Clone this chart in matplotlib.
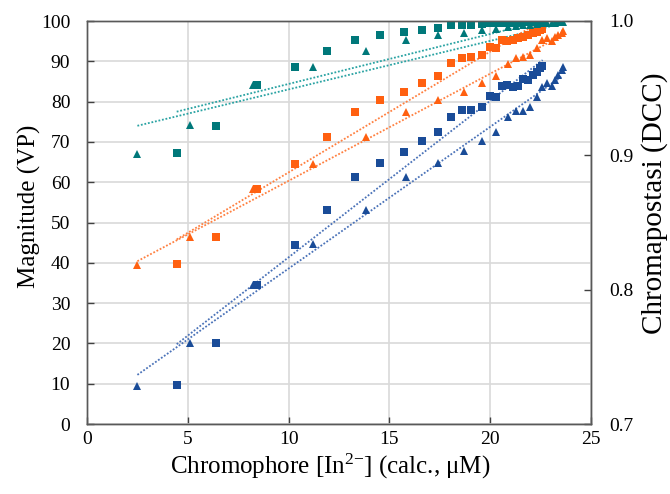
import matplotlib
matplotlib.use("Agg")
import matplotlib.pyplot as plt
import numpy as np

plt.rcParams['font.family'] = ['Liberation Serif', 'DejaVu Serif']
plt.rcParams['mathtext.fontset'] = 'custom'
plt.rcParams['mathtext.rm'] = 'Liberation Serif'
plt.rcParams['mathtext.it'] = 'Liberation Serif:italic'

# ---- data ----
x_sq = [4.45, 6.4, 8.45, 10.3, 11.9, 13.3, 14.55, 15.7, 16.6, 17.4, 18.05, 18.6, 19.05,
        19.6, 20.0, 20.3, 20.57, 20.82, 21.15, 21.4, 21.64, 21.89, 22.14, 22.3, 22.47, 22.55]
teal_sq = [67.2, 74.0, 84.2, 88.5, 92.5, 95.3, 96.5, 97.2, 97.8, 98.3, 99.0, 99.1, 99.1,
           99.3, 99.4, 99.4, 99.5, 99.5, 99.6, 99.6, 99.7, 99.7, 99.8, 99.8, 99.9, 99.9]
orange_sq = [39.7, 46.5, 58.3, 64.5, 71.2, 77.5, 80.4, 82.5, 84.7, 86.4, 89.5, 90.7, 91.0,
             91.6, 93.6, 93.4, 95.4, 95.1, 95.3, 95.7, 96.0, 96.5, 96.9, 97.3, 97.8, 98.0]
blue_sq = [9.7, 20.0, 34.5, 44.5, 53.1, 61.2, 64.8, 67.6, 70.3, 72.5, 76.3, 77.9, 77.9,
           78.7, 81.4, 81.2, 83.9, 84.1, 83.5, 83.9, 85.5, 85.4, 86.6, 87.4, 88.3, 88.8]

x_tri = [2.5, 5.1, 8.25, 11.2, 13.85, 15.8, 17.4, 18.7, 19.6, 20.3, 20.9, 21.3, 21.65,
         21.95, 22.3, 22.55, 22.8, 23.05, 23.2, 23.38, 23.55, 23.6]
teal_tri = [67.0, 74.2, 84.0, 88.5, 92.5, 95.2, 96.5, 97.0, 97.8, 97.9, 98.5, 98.8, 99.0,
            99.1, 99.2, 99.4, 99.5, 99.5, 99.6, 99.7, 99.8, 99.8]
orange_tri = [39.5, 46.5, 58.3, 64.5, 71.3, 77.5, 80.4, 82.3, 84.5, 86.4, 89.3, 90.9, 91.0,
              91.6, 93.4, 95.3, 95.7, 95.1, 96.1, 96.5, 97.1, 97.6]
blue_tri = [9.5, 20.0, 34.5, 44.6, 53.1, 61.2, 64.8, 67.7, 70.3, 72.5, 76.1, 77.7, 77.7,
            78.6, 81.2, 83.5, 84.5, 83.9, 85.4, 86.6, 87.8, 88.7]

# trend lines (start x, end x, start y, end y)
trend_sq_x = [4.45, 22.6]
trend_tri_x = [2.5, 23.6]
teal_sq_trend = [77.5, 100.0]
teal_tri_trend = [74.0, 99.4]
orange_sq_trend = [45.8, 100.2]
orange_tri_trend = [40.4, 96.5]
blue_sq_trend = [19.8, 90.3]
blue_tri_trend = [12.2, 86.4]

x_ticks = [0, 5, 10, 15, 20, 25]
y_ticks = [0, 10, 20, 30, 40, 50, 60, 70, 80, 90, 100]
y2_ticks = [0.7, 0.8, 0.9, 1.0]

c_teal, c_orange, c_blue = '#00787a', '#ff6010', '#1a4c98'
l_teal, l_orange, l_blue = '#2aa3a3', '#ff8040', '#4a72b8'

fig = plt.figure(figsize=(6.7, 4.94), dpi=100)
ax = fig.add_axes([87/670, 1-424/494, 504/670, 403/494])

ax.set_xlim(0, 25)
ax.set_ylim(0, 100)
ax.set_xticks(x_ticks)
ax.set_yticks(y_ticks)
ax.grid(True, color='#d9d9d9', linewidth=1.2)
ax.set_axisbelow(True)

dot = (0, (1, 1))
for xs, ys, col in [(trend_sq_x, teal_sq_trend, l_teal), (trend_tri_x, teal_tri_trend, l_teal),
                    (trend_sq_x, orange_sq_trend, l_orange), (trend_tri_x, orange_tri_trend, l_orange),
                    (trend_sq_x, blue_sq_trend, l_blue), (trend_tri_x, blue_tri_trend, l_blue)]:
    ax.plot(xs, ys, linestyle=dot, color=col, linewidth=1.3, zorder=2)

ms = 5.4
for ys, col in [(teal_sq, c_teal), (orange_sq, c_orange), (blue_sq, c_blue)]:
    ax.plot(x_sq, ys, linestyle='none', marker='s', markersize=ms, color=col,
            markeredgewidth=0, zorder=3)
for ys, col in [(teal_tri, c_teal), (orange_tri, c_orange), (blue_tri, c_blue)]:
    ax.plot(x_tri, ys, linestyle='none', marker='^', markersize=ms+0.6, color=col,
            markeredgewidth=0, zorder=3)

for s in ax.spines.values():
    s.set_color('#595959')
    s.set_linewidth(1.0)
ax.tick_params(direction='in', length=5, width=1, color='#404040', labelsize=14,
               right=False, top=False)
ax.tick_params(axis='y', pad=12)
ax.tick_params(axis='x', pad=5)

ax2 = ax.twinx()
ax2.set_ylim(0.7, 1.0)
ax2.set_yticks(y2_ticks)
ax2.set_yticklabels([f'{v:.1f}' for v in y2_ticks])
ax2.tick_params(direction='in', length=5, width=1, color='#404040', labelsize=14, pad=13)
for s in ax2.spines.values():
    s.set_color('#595959')
    s.set_linewidth(1.0)

fig.text(29/670, 1-206/494, 'Magnitude (VP)', rotation=90, ha='center', va='center', fontsize=18)
fig.text(655/670, 1-203/494, 'Chromapostasi (DCC)', rotation=90, ha='center', va='center', fontsize=21)
fig.text(330/670, 1-466/494, r'Chromophore [In$^{2\mathrm{-}}$] (calc., μM)', ha='center', va='center',
         fontsize=18)

fig.savefig('out.png', dpi=100)
